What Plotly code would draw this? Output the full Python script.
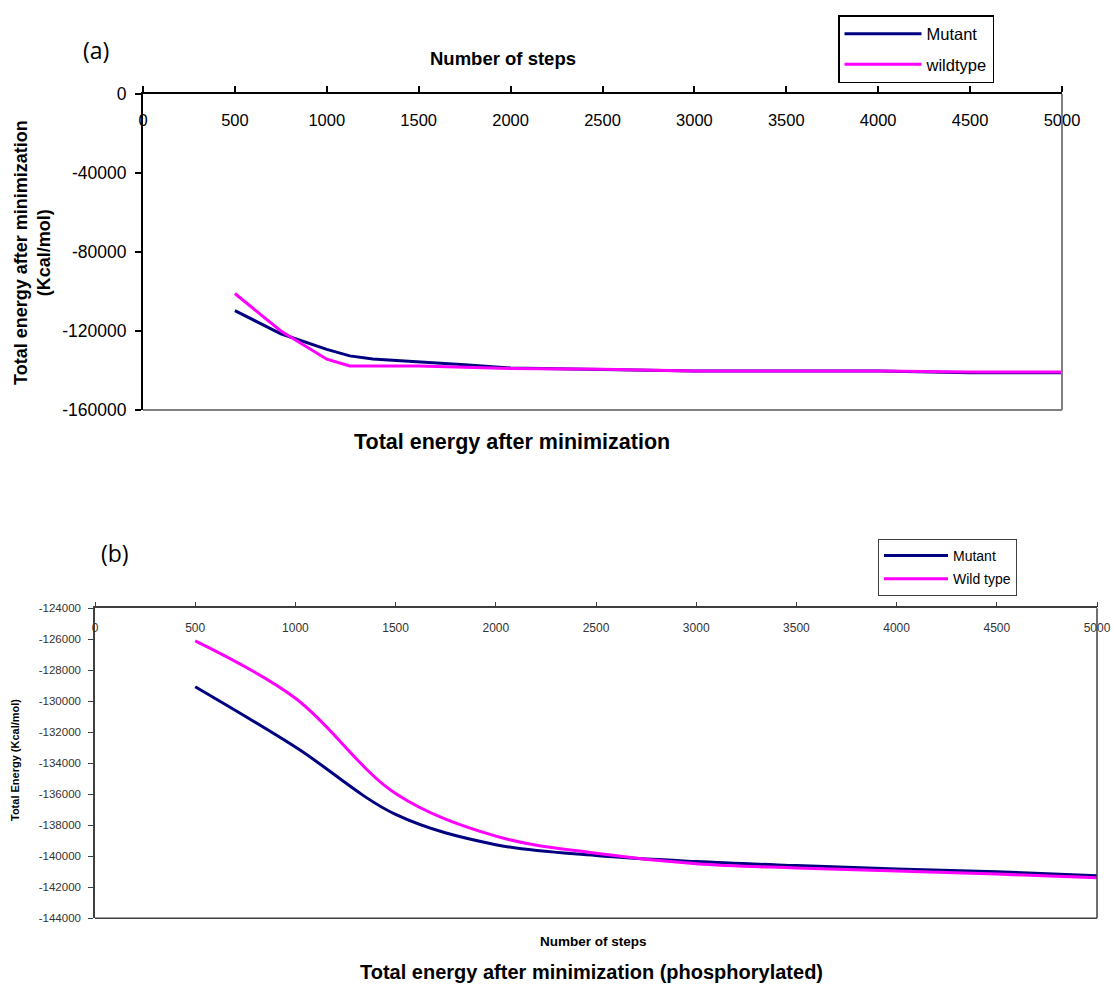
import plotly.graph_objects as go

# ---- panel (a) data ----
steps_a = [500, 750, 1000, 1125, 1250, 1500, 1750, 2000, 2500, 3000, 3500, 4000, 4500, 5000]
mutant_a = [-109700, -121400, -129300, -132600, -134200, -135500, -137100, -138700,
            -139600, -140200, -140200, -140200, -141200, -141200]
wildtype_a = [-101000, -120000, -134300, -137700, -137700, -137700, -138300, -139000,
              -139400, -140200, -140200, -140200, -140700, -140700]
yticks_a = [0, -40000, -80000, -120000, -160000]

# ---- panel (b) data ----
steps_b = [500, 1000, 1500, 2000, 2500, 3000, 3500, 4000, 4500, 5000]
mutant_b = [-129060, -132950, -137300, -139250, -139950, -140340, -140600, -140820, -141000, -141250]
wildtype_b = [-126100, -129800, -135950, -138700, -139800, -140480, -140750, -140950, -141150, -141380]
yticks_b = [-124000, -126000, -128000, -130000, -132000, -134000, -136000, -138000,
            -140000, -142000, -144000]

xticks = [0, 500, 1000, 1500, 2000, 2500, 3000, 3500, 4000, 4500, 5000]

NAVY = "#000080"
MAGENTA = "#FF00FF"
FONT = "Liberation Sans, Arial, sans-serif"

W, H = 1113, 984

fig = go.Figure()
fig.add_trace(go.Scatter(x=steps_a, y=mutant_a, name="Mutant", mode="lines", legendgroup="a1",
                         line=dict(color=NAVY, width=3), xaxis="x", yaxis="y", legend="legend"))
fig.add_trace(go.Scatter(x=steps_a, y=wildtype_a, name="wildtype", mode="lines", legendgroup="a2",
                         line=dict(color=MAGENTA, width=3), xaxis="x", yaxis="y", legend="legend"))
fig.add_trace(go.Scatter(x=steps_b, y=mutant_b, name="Mutant", mode="lines", legendgroup="b1",
                         line=dict(color=NAVY, width=3, shape="spline"), xaxis="x2", yaxis="y2",
                         legend="legend2"))
fig.add_trace(go.Scatter(x=steps_b, y=wildtype_b, name="Wild type", mode="lines", legendgroup="b2",
                         line=dict(color=MAGENTA, width=3, shape="spline"), xaxis="x2", yaxis="y2",
                         legend="legend2"))


def px_x(p):
    return p / W


def px_y(p):
    return 1 - p / H


def labels(vals):
    return [str(v) for v in vals]


fig.update_layout(
    width=W, height=H, autosize=False,
    margin=dict(l=0, r=0, t=0, b=0, autoexpand=False),
    paper_bgcolor="white", plot_bgcolor="white",
    font=dict(family=FONT, color="black"),
    xaxis=dict(domain=[px_x(143), px_x(1062)], range=[0, 5000],
               tickvals=xticks, ticktext=labels(xticks),
               side="top", anchor="y", showline=True, linecolor="black", linewidth=2,
               ticks="outside", ticklen=6, tickcolor="black", tickwidth=1.5,
               ticklabelposition="inside", ticklabeloverflow="allow", ticklabelstandoff=21,
               tickfont=dict(size=16.5, family=FONT, color="black"),
               showgrid=False, zeroline=False),
    yaxis=dict(domain=[px_y(410), px_y(94)], range=[-160000, 0],
               tickvals=yticks_a, ticktext=labels(yticks_a),
               anchor="x", showline=True, linecolor="black", linewidth=2,
               ticks="outside", ticklen=6, tickcolor="black", tickwidth=1.5,
               ticklabeloverflow="allow", ticklabelstandoff=5,
               tickfont=dict(size=17.5, family=FONT, color="black"),
               showgrid=False, zeroline=False),
    xaxis2=dict(domain=[px_x(95), px_x(1097)], range=[0, 5000],
                tickvals=xticks, ticktext=labels(xticks),
                side="top", anchor="y2", showline=True, linecolor="#404040", linewidth=1.5,
                ticks="outside", ticklen=5, tickcolor="#404040", tickwidth=1,
                ticklabelposition="inside", ticklabeloverflow="allow", ticklabelstandoff=15,
                tickfont=dict(size=12, family=FONT, color="#333333"),
                showgrid=False, zeroline=False),
    yaxis2=dict(domain=[px_y(918.3), px_y(608.3)], range=[-144000, -124000],
                tickvals=yticks_b, ticktext=labels(yticks_b),
                anchor="x2", showline=True, linecolor="#404040", linewidth=1.5,
                ticks="outside", ticklen=5, tickcolor="#404040", tickwidth=1,
                ticklabeloverflow="allow", ticklabelstandoff=5,
                tickfont=dict(size=11.5, family=FONT, color="#333333"),
                showgrid=False, zeroline=False),
    legend=dict(x=px_x(838), y=px_y(15), xanchor="left", yanchor="top",
                bordercolor="black", borderwidth=1.5, bgcolor="white",
                tracegroupgap=6, itemwidth=77,
                font=dict(size=16.5, family=FONT, color="black")),
    legend2=dict(x=px_x(878), y=px_y(539), xanchor="left", yanchor="top",
                 bordercolor="#404040", borderwidth=1, bgcolor="white",
                 tracegroupgap=2, itemwidth=64,
                 font=dict(size=14, family=FONT, color="black")),
)

# plot-area borders (right and bottom edges)
for xr, yr, col, wd in [("x domain", "y domain", "#808080", 2), ("x2 domain", "y2 domain", "#404040", 1.5)]:
    fig.add_shape(type="line", xref=xr, yref=yr, x0=1, x1=1, y0=0, y1=1,
                  line=dict(color=col, width=wd))
    fig.add_shape(type="line", xref=xr, yref=yr, x0=0, x1=1, y0=0, y1=0,
                  line=dict(color=col, width=wd))

annotations = [
    dict(text="(a)", x=px_x(96), y=px_y(50), font=dict(size=23, family="Open Sans, sans-serif")),
    dict(text="<b>Number of steps</b>", x=px_x(503), y=px_y(59), font=dict(size=18.5)),
    dict(text="<b>Total energy after minimization</b>", x=px_x(512), y=px_y(442), font=dict(size=21.5)),
    dict(text="<b>Total energy after minimization<br>(Kcal/mol)</b>", x=px_x(33), y=px_y(253),
         textangle=-90, font=dict(size=18)),
    dict(text="(b)", x=px_x(115), y=px_y(553), font=dict(size=23, family="Open Sans, sans-serif")),
    dict(text="<b>Total Energy (Kcal/mol)</b>", x=px_x(15), y=px_y(760), textangle=-90,
         font=dict(size=11)),
    dict(text="<b>Number of steps</b>", x=px_x(593), y=px_y(941), font=dict(size=13.5)),
    dict(text="<b>Total energy after minimization (phosphorylated)</b>", x=px_x(592), y=px_y(972),
         font=dict(size=20)),
]
for a in annotations:
    a.update(xref="paper", yref="paper", showarrow=False, xanchor="center", yanchor="middle")
    a["font"].setdefault("family", FONT)
    a["font"].setdefault("color", "black")
fig.update_layout(annotations=annotations)

fig.write_html("out.html", config={"displayModeBar": False},
               post_script="document.body.style.margin='0px';document.body.style.overflow='hidden';")
